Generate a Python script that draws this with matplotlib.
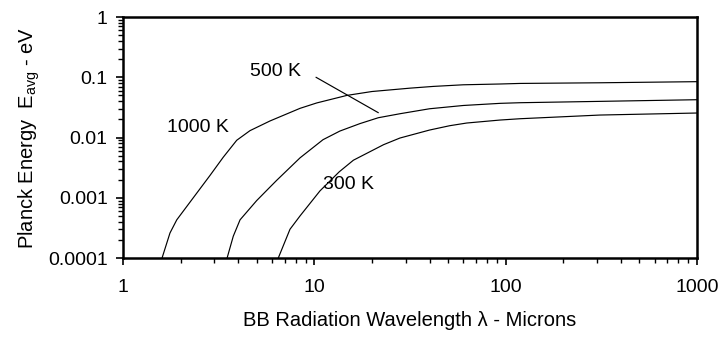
import matplotlib
matplotlib.use("Agg")
import matplotlib.pyplot as plt
from matplotlib.ticker import LogLocator, NullFormatter

# ---- data ----
x_1000 = [1.6, 1.76, 1.91, 2.33, 2.85, 3.34, 3.93, 4.61, 5.86, 8.42, 10.3, 14.8,
          20, 31.7, 41.9, 60, 93.5, 119, 311, 1000]
y_1000 = [1e-4, 2.6e-4, 4.3e-4, 1.0e-3, 2.35e-3, 4.7e-3, 9.0e-3, 0.0130, 0.0188,
          0.0305, 0.0375, 0.050, 0.058, 0.066, 0.0705, 0.075, 0.0773, 0.079, 0.081, 0.0845]

x_500 = [3.5, 3.77, 4.09, 5.0, 5.86, 6.36, 8.42, 11.1, 13.6, 17.3, 21.6, 28,
         40, 60, 93.5, 119, 311, 1000]
y_500 = [1e-4, 2.3e-4, 4.3e-4, 9.0e-4, 1.5e-3, 1.95e-3, 4.6e-3, 0.0092, 0.0128,
         0.0170, 0.0213, 0.0248, 0.0300, 0.0340, 0.0369, 0.0378, 0.0398, 0.0424]

x_300 = [6.48, 7.46, 8.42, 10.7, 13.5, 16.0, 23, 28, 40, 51, 62.6, 93.5, 119, 311, 1000]
y_300 = [1e-4, 3.0e-4, 5.0e-4, 1.3e-3, 2.7e-3, 4.2e-3, 7.6e-3, 0.0098, 0.0133, 0.0157,
         0.0174, 0.0195, 0.0205, 0.0236, 0.0255]

x_ticks = [1, 10, 100, 1000]
x_tick_labels = ["1", "10", "100", "1000"]
y_ticks = [0.0001, 0.001, 0.01, 0.1, 1]
y_tick_labels = ["0.0001", "0.001", "0.01", "0.1", "1"]

labels = ["1000 K", "500 K", "300 K"]

plt.rcParams["font.family"] = ["Liberation Sans", "DejaVu Sans"]
plt.rcParams["mathtext.fontset"] = "custom"
plt.rcParams["mathtext.rm"] = "Liberation Sans"
plt.rcParams["mathtext.it"] = "Liberation Sans:italic"

fig = plt.figure(figsize=(7.18, 3.43), dpi=100)
ax = fig.add_axes([0.1713, 0.2478, 0.7995, 0.7026])

for xs, ys in [(x_1000, y_1000), (x_500, y_500), (x_300, y_300)]:
    ax.plot(xs, ys, color="black", lw=0.85)

ax.set_xscale("log")
ax.set_yscale("log")
ax.set_xlim(1, 1000)
ax.set_ylim(0.0001, 1)

ax.set_xticks(x_ticks)
ax.set_xticklabels(x_tick_labels)
ax.set_yticks(y_ticks)
ax.set_yticklabels(y_tick_labels)
ax.xaxis.set_minor_locator(LogLocator(base=10, subs=range(2, 10)))
ax.yaxis.set_minor_locator(LogLocator(base=10, subs=range(2, 10)))
ax.xaxis.set_minor_formatter(NullFormatter())
ax.yaxis.set_minor_formatter(NullFormatter())

ax.tick_params(axis="both", which="major", direction="out", length=5, width=1.2,
               labelsize=14)
ax.tick_params(axis="x", which="major", pad=10)
ax.tick_params(axis="y", which="major", pad=6)
ax.tick_params(axis="both", which="minor", direction="out", length=3.5, width=1.0)

for s in ax.spines.values():
    s.set_linewidth(1.8)
    s.set_color("black")

ax.set_xlabel("BB Radiation Wavelength \u03bb - Microns", fontsize=14.5, labelpad=11)
ax.set_ylabel("Planck Energy  E$_{\\mathrm{avg}}$ - eV", fontsize=14.5, labelpad=4)

# curve labels
ax.text(1.70, 0.0144, labels[0], fontsize=14, ha="left", va="center")
ax.text(4.61, 0.127, labels[1], fontsize=14, ha="left", va="center")
ax.text(11.1, 0.00163, labels[2], fontsize=14, ha="left", va="center")
ax.annotate("", xy=(21.6, 0.0258), xytext=(10.2, 0.1),
            arrowprops=dict(arrowstyle="-", color="black", lw=0.85,
                            shrinkA=0, shrinkB=0))

fig.savefig("out.png", dpi=100)
